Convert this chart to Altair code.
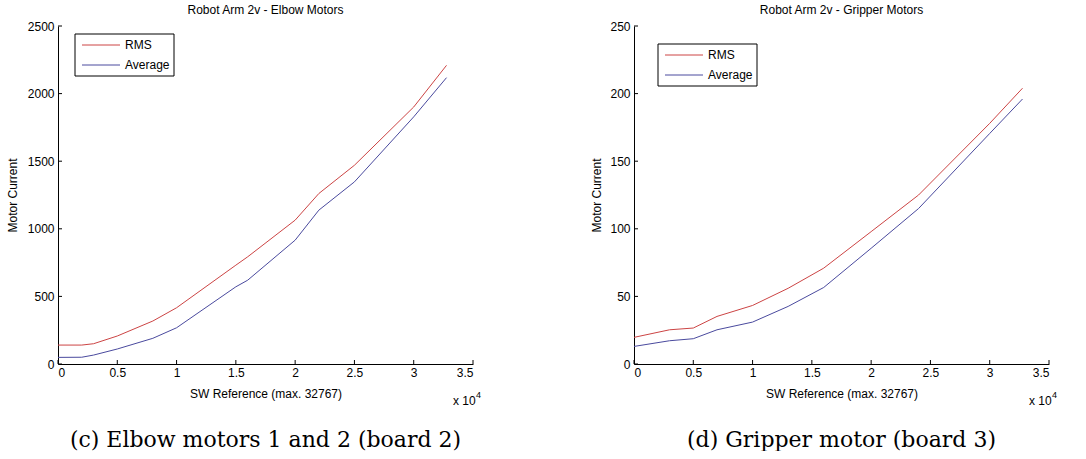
import altair as alt
import pandas as pd

# ---- data ----
elbow_x = [0, 2000, 3000, 5000, 8000, 10000, 15000, 16000, 20000, 22000, 25000, 30000, 32767]
elbow_rms = [140, 140, 150, 207, 318, 416, 731, 793, 1064, 1261, 1470, 1901, 2209]
elbow_avg = [49, 50, 66, 111, 190, 268, 571, 620, 916, 1138, 1347, 1828, 2118]

grip_x = [0, 3000, 5000, 7000, 10000, 13000, 16000, 20000, 24000, 30000, 32767]
grip_rms = [19.7, 25.3, 26.6, 35.2, 43.3, 56.0, 70.9, 97.9, 125.0, 178.0, 204.0]
grip_avg = [13.0, 17.2, 18.7, 25.3, 31.0, 42.6, 56.6, 85.6, 115.0, 170.5, 196.0]

x_ticks = [0, 5000, 10000, 15000, 20000, 25000, 30000, 35000]
elbow_yticks = [0, 500, 1000, 1500, 2000, 2500]
grip_yticks = [0, 50, 100, 150, 200, 250]

series_names = ["RMS", "Average"]
series_colors = ["#cc4444", "#4a4a9e"]

W, H = 415, 338
FONT = "Liberation Sans"


def legend_layers(lx, ly):
    layers = []
    box = alt.Chart(pd.DataFrame({"k": [0]})).mark_rect(
        fill="white", stroke="black", strokeWidth=1).encode(
        x=alt.value(lx), x2=alt.value(lx + 99), y=alt.value(ly), y2=alt.value(ly + 42))
    layers.append(box)
    for i, (name, col) in enumerate(zip(series_names, series_colors)):
        yy = ly + 11 + 20 * i
        layers.append(alt.Chart(pd.DataFrame({"k": [0]})).mark_rule(
            color=col, strokeWidth=1).encode(
            x=alt.value(lx + 7), x2=alt.value(lx + 45), y=alt.value(yy)))
        layers.append(alt.Chart(pd.DataFrame({"t": [name]})).mark_text(
            font=FONT, fontSize=12, align="left", baseline="middle", color="black").encode(
            text="t:N", x=alt.value(lx + 50), y=alt.value(yy)))
    return layers


def panel(xs, rms, avg, yticks, title, caption, ytitle_x, leg_x, leg_y):
    df = pd.DataFrame({
        "x": xs + xs,
        "v": rms + avg,
        "series": ["RMS"] * len(xs) + ["Average"] * len(xs),
    })
    xscale = alt.Scale(domain=[0, 35000], nice=False, zero=False)
    yscale = alt.Scale(domain=[yticks[0], yticks[-1]], nice=False)

    lines = alt.Chart(df).mark_line(strokeWidth=1).encode(
        x=alt.X("x:Q", scale=xscale,
                axis=alt.Axis(values=x_ticks, labelExpr="datum.value/10000",
                              ticks=False, grid=False,
                              title="SW Reference (max. 32767)",
                              titleY=29, titleBaseline="middle",
                              labelPadding=3)),
        y=alt.Y("v:Q", scale=yscale,
                axis=alt.Axis(values=yticks, format="d", ticks=False, grid=False,
                              title="Motor Current", titleX=ytitle_x,
                              titleBaseline="middle", labelPadding=4)),
        color=alt.Color("series:N",
                        scale=alt.Scale(domain=series_names, range=series_colors),
                        legend=None),
        order=alt.Order("x:Q"),
    )

    xt = alt.Chart(pd.DataFrame({"t": x_ticks})).mark_rule(color="black", strokeWidth=1).encode(
        x=alt.X("t:Q", scale=xscale), y=alt.value(H), y2=alt.value(H - 4))
    yt = alt.Chart(pd.DataFrame({"t": yticks})).mark_rule(color="black", strokeWidth=1).encode(
        y=alt.Y("t:Q", scale=yscale), x=alt.value(0), x2=alt.value(4))

    mult = alt.Chart(pd.DataFrame({"t": ["x 10"]})).mark_text(
        font=FONT, fontSize=12, align="left", baseline="middle", color="black").encode(
        text="t:N", x=alt.value(W - 20), y=alt.value(H + 37))
    exp = alt.Chart(pd.DataFrame({"t": ["4"]})).mark_text(
        font=FONT, fontSize=9, align="left", baseline="middle", color="black").encode(
        text="t:N", x=alt.value(W + 3), y=alt.value(H + 31))
    cap = alt.Chart(pd.DataFrame({"t": [caption]})).mark_text(
        font="DejaVu Serif", fontSize=22, align="center", baseline="alphabetic",
        color="black").encode(
        text="t:N", x=alt.value(W / 2), y=alt.value(H + 83))

    return alt.layer(lines, xt, yt, *legend_layers(leg_x, leg_y), mult, exp, cap).properties(
        width=W, height=H,
        title=alt.TitleParams(title, fontSize=12, fontWeight="normal", font=FONT,
                              anchor="middle", offset=3, color="black"),
    )


left = panel(elbow_x, elbow_rms, elbow_avg, elbow_yticks,
             "Robot Arm 2v - Elbow Motors", "(c) Elbow motors 1 and 2 (board 2)",
             -46, 17, 8)
right = panel(grip_x, grip_rms, grip_avg, grip_yticks,
              "Robot Arm 2v - Gripper Motors", "(d) Gripper motor (board 3)",
              -38, 24, 18)

chart = alt.hconcat(left, right, spacing=108).resolve_scale(
    color="independent", x="independent", y="independent"
).properties(
    padding={"left": 6, "top": 4, "right": 0, "bottom": 0},
    background="white",
).configure_view(strokeWidth=0).configure_axis(
    domainColor="black", domainWidth=1, labelColor="black", titleColor="black",
    labelFont=FONT, titleFont=FONT, labelFontSize=12, titleFontSize=12,
    titleFontWeight="normal",
)

chart.save("out.html", embed_options={"renderer": "svg", "actions": False})
